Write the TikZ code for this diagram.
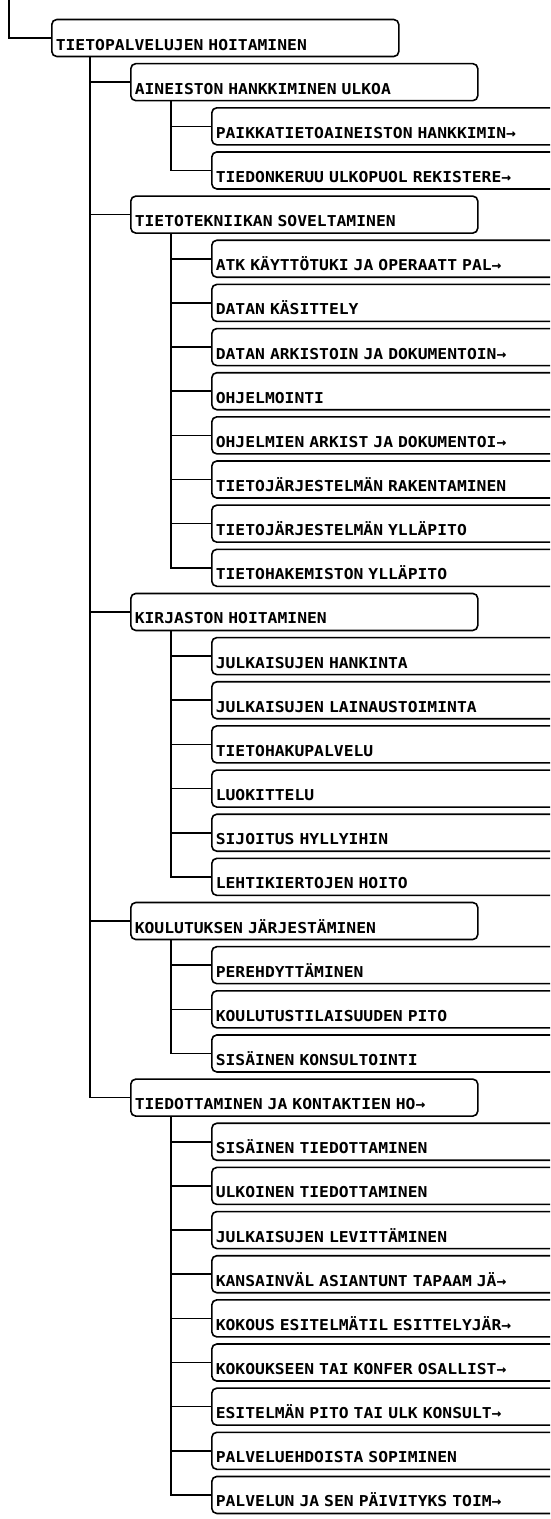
\documentclass[tikz,border=0pt]{standalone}
\usepackage{fontspec}
\newfontfamily\plotfont[FakeStretch=1.09]{DejaVu Sans Mono}
\begin{document}
\begin{tikzpicture}[x=1pt,y=-1pt,line width=1.6pt,
  box/.style={draw,rounded corners=5pt,anchor=west,inner xsep=4pt,inner ysep=0pt,
    text height=30.5pt,text depth=6.5pt,align=left,
    font=\plotfont\bfseries\fontsize{15pt}{15pt}\selectfont},
  lone/.style={box,text width=339pt},
  ltwo/.style={box,text width=339pt},
  lthree/.style={box,text width=400pt},
  link/.style={draw,line width=1.6pt}]
\useasboundingbox (0,0) rectangle (550,1519);
\clip (0,0) rectangle (550,1519);
\node[lone] (n1) at (51,38) {TIETOPALVELUJEN HOITAMINEN};
\node[ltwo] (n2) at (130,82.15) {AINEISTON HANKKIMINEN ULKOA};
\node[lthree] (n3) at (211,126.3) {PAIKKATIETOAINEISTON HANKKIMIN→};
\node[lthree] (n4) at (211,170.45) {TIEDONKERUU ULKOPUOL REKISTERE→};
\node[ltwo] (n5) at (130,214.6) {TIETOTEKNIIKAN SOVELTAMINEN};
\node[lthree] (n6) at (211,258.75) {ATK KÄYTTÖTUKI JA OPERAATT PAL→};
\node[lthree] (n7) at (211,302.9) {DATAN KÄSITTELY};
\node[lthree] (n8) at (211,347.05) {DATAN ARKISTOIN JA DOKUMENTOIN→};
\node[lthree] (n9) at (211,391.2) {OHJELMOINTI};
\node[lthree] (n10) at (211,435.35) {OHJELMIEN ARKIST JA DOKUMENTOI→};
\node[lthree] (n11) at (211,479.5) {TIETOJÄRJESTELMÄN RAKENTAMINEN};
\node[lthree] (n12) at (211,523.65) {TIETOJÄRJESTELMÄN YLLÄPITO};
\node[lthree] (n13) at (211,567.8) {TIETOHAKEMISTON YLLÄPITO};
\node[ltwo] (n14) at (130,611.95) {KIRJASTON HOITAMINEN};
\node[lthree] (n15) at (211,656.1) {JULKAISUJEN HANKINTA};
\node[lthree] (n16) at (211,700.25) {JULKAISUJEN LAINAUSTOIMINTA};
\node[lthree] (n17) at (211,744.4) {TIETOHAKUPALVELU};
\node[lthree] (n18) at (211,788.55) {LUOKITTELU};
\node[lthree] (n19) at (211,832.7) {SIJOITUS HYLLYIHIN};
\node[lthree] (n20) at (211,876.85) {LEHTIKIERTOJEN HOITO};
\node[ltwo] (n21) at (130,921) {KOULUTUKSEN JÄRJESTÄMINEN};
\node[lthree] (n22) at (211,965.15) {PEREHDYTTÄMINEN};
\node[lthree] (n23) at (211,1009.3) {KOULUTUSTILAISUUDEN PITO};
\node[lthree] (n24) at (211,1053.45) {SISÄINEN KONSULTOINTI};
\node[ltwo] (n25) at (130,1097.6) {TIEDOTTAMINEN JA KONTAKTIEN HO→};
\node[lthree] (n26) at (211,1141.75) {SISÄINEN TIEDOTTAMINEN};
\node[lthree] (n27) at (211,1185.9) {ULKOINEN TIEDOTTAMINEN};
\node[lthree] (n28) at (211,1230.05) {JULKAISUJEN LEVITTÄMINEN};
\node[lthree] (n29) at (211,1274.2) {KANSAINVÄL ASIANTUNT TAPAAM JÄ→};
\node[lthree] (n30) at (211,1318.35) {KOKOUS ESITELMÄTIL ESITTELYJÄR→};
\node[lthree] (n31) at (211,1362.5) {KOKOUKSEEN TAI KONFER OSALLIST→};
\node[lthree] (n32) at (211,1406.65) {ESITELMÄN PITO TAI ULK KONSULT→};
\node[lthree] (n33) at (211,1450.8) {PALVELUEHDOISTA SOPIMINEN};
\node[lthree] (n34) at (211,1494.95) {PALVELUN JA SEN PÄIVITYKS TOIM→};
% root connector
\coordinate (root) at (9,0);
\draw[link] (root) |- (n1.west);
% level 1 to level 2
\foreach \c in {n2,n5,n14,n21,n25}
  \draw[link] ([xshift=39pt]n1.south west) |- (\c.west);
% level 2 to level 3
\foreach \c in {n3,n4}
  \draw[link] ([xshift=41pt]n2.south west) |- (\c.west);
\foreach \c in {n6,n7,n8,n9,n10,n11,n12,n13}
  \draw[link] ([xshift=41pt]n5.south west) |- (\c.west);
\foreach \c in {n15,n16,n17,n18,n19,n20}
  \draw[link] ([xshift=41pt]n14.south west) |- (\c.west);
\foreach \c in {n22,n23,n24}
  \draw[link] ([xshift=41pt]n21.south west) |- (\c.west);
\foreach \c in {n26,n27,n28,n29,n30,n31,n32,n33,n34}
  \draw[link] ([xshift=41pt]n25.south west) |- (\c.west);
\end{tikzpicture}
\end{document}
